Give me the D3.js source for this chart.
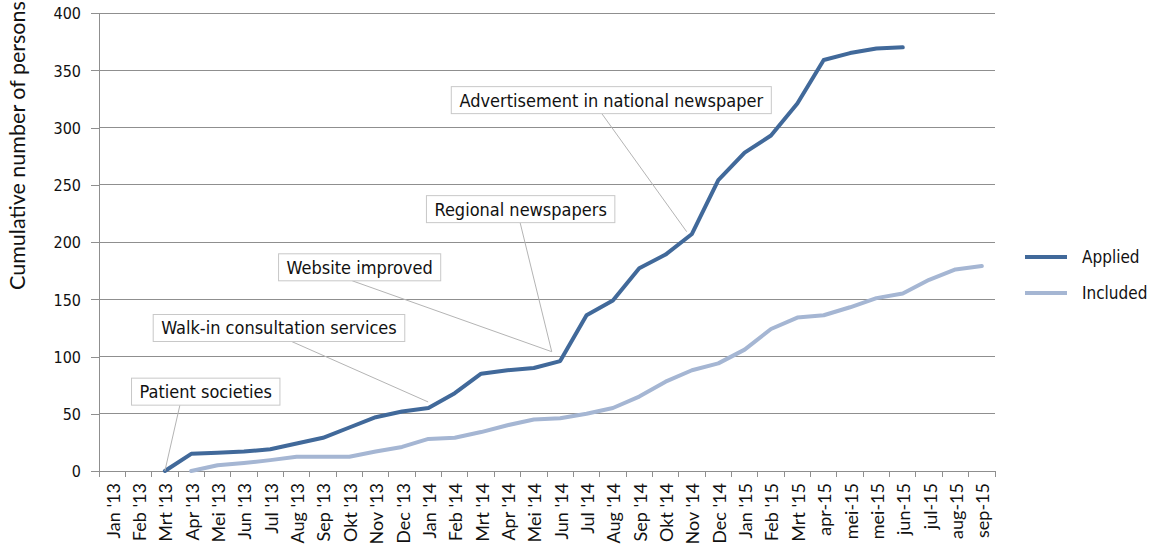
<!DOCTYPE html>
<html>
<head>
<meta charset="utf-8">
<script src="https://cdn.jsdelivr.net/npm/d3@7"></script>
<style>
  html, body { margin: 0; padding: 0; background: #fff; }
  svg { display: block; }
  .cond { font-family: "DejaVu Sans Condensed", "DejaVu Sans", sans-serif; font-stretch: condensed; }
</style>
</head>
<body>
<svg id="chart" width="1149" height="545"></svg>
<script>
const categories = ["Jan '13","Feb '13","Mrt '13","Apr '13","Mei '13","Jun '13","Jul '13","Aug '13","Sep '13","Okt '13","Nov '13","Dec '13",
  "Jan '14","Feb '14","Mrt '14","Apr '14","Mei '14","Jun '14","Jul '14","Aug '14","Sep '14","Okt '14","Nov '14","Dec '14",
  "Jan '15","Feb '15","Mrt '15","apr-15","mei-15","mei-15","jun-15","jul-15","aug-15","sep-15"];

const applied = [null,null,0,15,16,17,19,24,29,38,47,52,55,68,85,88,90,96,136,149,177,189,207,254,278,293,321,359,365,369,370,null,null,null];
const included = [null,null,null,0,5,7,9.5,12.5,12.5,12.5,17,21,28,29,34,40,45,46,50,55,65,78,88,94,106,124,134,136,143,151,155,167,176,179];

const yTicks = [0,50,100,150,200,250,300,350,400];

const seriesNames = ["Applied","Included"];
const seriesColors = ["#41699A","#A5B6D3"];

// annotations: box centre (fractional category index, value), leader start, leader target
const annLabels = ["Patient societies","Walk-in consultation services","Website improved","Regional newspapers","Advertisement in national newspaper"];
const annBoxPos = [[3.55,69.3],[6.33,124.9],[9.39,177.9],[15.5,228.7],[18.94,323.9]];
const annLeadFromX = [2.57,6.81,9.11,15.48,18.58];
const annTarget = [[2,0],[11.99,60.3],[16.68,104.2],[16.68,104.2],[21.8,209]];

(function () {
const svg = d3.select("#chart");
const pL = 99, pR = 995, pT = 13, pB = 471;

const x = d3.scaleLinear().domain([-0.5, categories.length - 0.5]).range([pL, pR]);
const y = d3.scaleLinear().domain([0, 400]).range([pB, pT]);

// gridlines
svg.append("g").selectAll("line").data(yTicks.filter(d => d > 0)).join("line")
  .attr("x1", pL).attr("x2", pR)
  .attr("y1", d => y(d)).attr("y2", d => y(d))
  .attr("stroke", "#8f8f8f").attr("stroke-width", 1).attr("shape-rendering", "crispEdges");

// y axis
const yAxis = svg.append("g").attr("transform", `translate(${pL},0)`)
  .call(d3.axisLeft(y).tickValues(yTicks).tickSize(8).tickPadding(10).tickFormat(d3.format("d")));
yAxis.select(".domain").attr("stroke", "#8f8f8f").attr("shape-rendering", "crispEdges");
yAxis.selectAll(".tick line").attr("stroke", "#8f8f8f").attr("shape-rendering", "crispEdges");
yAxis.selectAll("text").attr("class", "cond").attr("font-size", 16).attr("fill", "#111").attr("dy", "0.36em");

// x axis
const bandEdges = d3.range(categories.length + 1).map(i => i - 0.5);
svg.append("line").attr("x1", pL).attr("x2", pR).attr("y1", pB).attr("y2", pB)
  .attr("stroke", "#8f8f8f").attr("shape-rendering", "crispEdges");
svg.append("g").selectAll("line").data(bandEdges).join("line")
  .attr("x1", d => x(d)).attr("x2", d => x(d)).attr("y1", pB).attr("y2", pB + 6)
  .attr("stroke", "#8f8f8f").attr("shape-rendering", "crispEdges");
svg.append("g").selectAll("text").data(categories).join("text")
  .attr("transform", (d, i) => `translate(${x(i) + 1},${pB + 12}) rotate(-90)`)
  .attr("text-anchor", "end").attr("dy", "0.36em")
  .attr("font-family", "Lato, sans-serif").attr("font-size", 18).attr("fill", "#111")
  .text(d => d);

// y title
svg.append("text")
  .attr("transform", `translate(25,290) rotate(-90)`)
  .attr("text-anchor", "start")
  .attr("font-family", "Lato, sans-serif").attr("font-size", 21.5).attr("fill", "#111")
  .text("Cumulative number of persons");

// lines
const lineIdx = d3.line().defined(d => d.v != null).x(d => x(d.i)).y(d => y(d.v));
[[included, seriesColors[1]], [applied, seriesColors[0]]].forEach(([s, color]) => {
  svg.append("path").datum(s.map((v, i) => ({i, v})))
    .attr("d", lineIdx).attr("fill", "none").attr("stroke", color)
    .attr("stroke-width", 4).attr("stroke-linejoin", "round").attr("stroke-linecap", "round");
});

// annotations
const leadG = svg.append("g");
const annG = svg.append("g");
annLabels.forEach((lab, k) => {
  const cx = x(annBoxPos[k][0]), cy = y(annBoxPos[k][1]);
  const g = annG.append("g");
  const t = g.append("text").attr("class", "cond").attr("font-size", 18).attr("fill", "#111")
    .attr("x", cx).attr("y", cy).attr("text-anchor", "middle").attr("dy", "0.36em").text(lab);
  const bb = t.node().getBBox();
  const w = bb.width + 16, h = 27;
  g.insert("rect", "text").attr("x", cx - w / 2).attr("y", cy - h / 2).attr("width", w).attr("height", h)
    .attr("fill", "#fff").attr("stroke", "#c8c8c8").attr("stroke-width", 1);
  leadG.append("line")
    .attr("x1", x(annLeadFromX[k])).attr("y1", cy + h / 2)
    .attr("x2", x(annTarget[k][0])).attr("y2", y(annTarget[k][1]))
    .attr("stroke", "#b4b4b4").attr("stroke-width", 1);
});

// legend
const leg = svg.append("g");
seriesNames.forEach((n, k) => {
  const ly = 257 + k * 36;
  leg.append("line").attr("x1", 1025).attr("x2", 1067).attr("y1", ly).attr("y2", ly)
    .attr("stroke", seriesColors[k]).attr("stroke-width", 4);
  leg.append("text").attr("class", "cond").attr("x", 1082).attr("y", ly).attr("dy", "0.36em")
    .attr("font-size", 17).attr("fill", "#111").text(n);
});
})();
</script>
</body>
</html>
